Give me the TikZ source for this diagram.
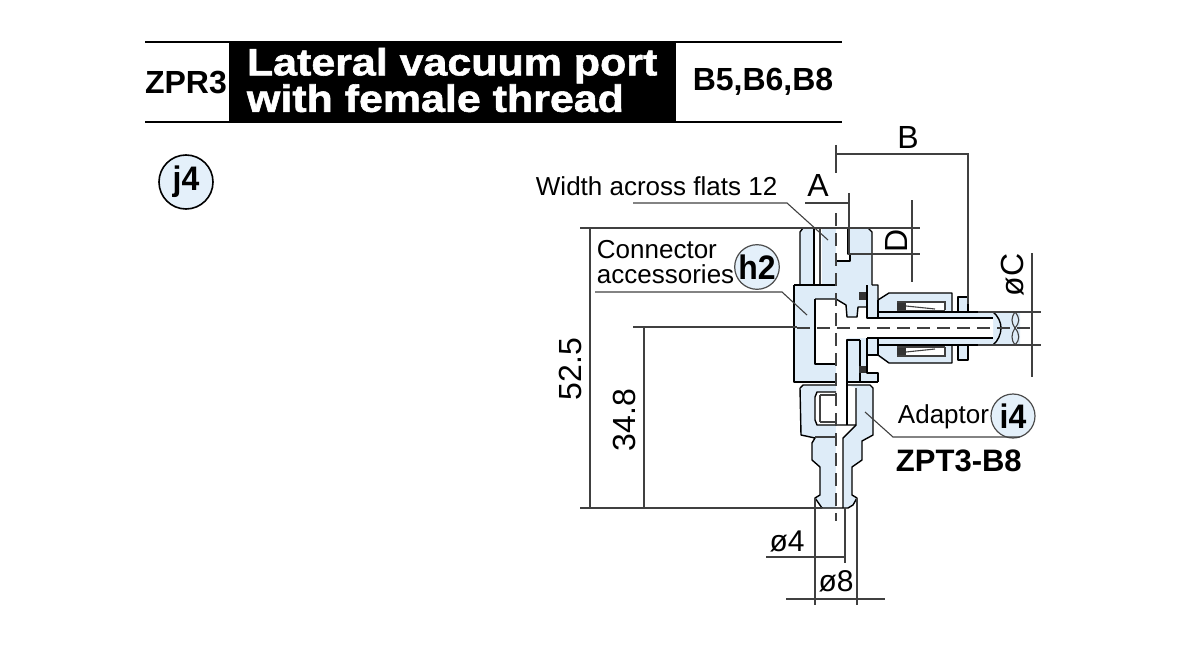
\documentclass[tikz,border=0pt]{standalone}
\usepackage{fontspec}
\setmainfont{Liberation Sans}
\newfontfamily\headfont[FakeStretch=1.13,FakeBold=1.5]{Liberation Sans}
\newfontfamily\bubblefont[FakeStretch=0.94]{Liberation Sans}
\definecolor{partblue}{RGB}{222,236,248}
\definecolor{bubbleblue}{RGB}{228,240,250}
\tikzset{
  outline/.style={draw=black,line width=1.4pt,line join=round},
  thinline/.style={draw=black!75,line width=1.1pt},
  dimline/.style={draw=black!75,line width=1.2pt},
  label/.style={inner sep=0.75pt,font=\fontsize{26}{27}\selectfont},
  biglabel/.style={inner sep=0.75pt,font=\fontsize{32}{32}\selectfont},
  bubble/.style={circle,draw=black!70,fill=bubbleblue,line width=1.2pt,minimum size=44pt,inner sep=0pt,font=\fontsize{34}{34}\selectfont\bubblefont\bfseries},
  headtext/.style={inner sep=0.75pt,font=\fontsize{32}{32}\selectfont\bfseries},
  whitetext/.style={inner sep=0.75pt,text=white,align=left,font=\fontsize{38}{32}\selectfont\headfont\bfseries},
}
\begin{document}
\begin{tikzpicture}[x=1pt,y=-1pt]
    \useasboundingbox (0,0) rectangle (1200,650);

    %Header
    \fill[black] (229,42) rectangle (676,123);
    \draw[line width=1.2pt] (145,42) -- (842,42);
    \draw[line width=1.2pt] (145,122) -- (842,122);
    \node[headtext] (series) at (186,83) {ZPR3};
    \node[headtext] (sizes) at (763,82) {B5,B6,B8};
    \node[whitetext,anchor=west] (title) at (246,80) {Lateral vacuum port\\with female thread};
    \node[bubble,minimum size=54pt,draw=black,line width=1.6pt] (jfour) at (186,182) {j4};

    %Shape: fitting body
    \fill[partblue] (800,232) -- (803,228) -- (868,228) -- (872,232) -- (872,285) -- (878,285) -- (878,300) -- (889,293) -- (952,293) -- (952,312) -- (958,312) -- (958,297) -- (968,297) -- (968,312) -- (993,312) -- (1020,312) -- (1020,345) -- (968,345) -- (968,360) -- (958,360) -- (958,345) -- (952,345) -- (952,363) -- (889,363) -- (878,357) -- (878,373) -- (878,382) -- (794,382) -- (794,285) -- (800,285) -- cycle;

    %Shape: adaptor
    \fill[partblue] (800,388) -- (803,385) -- (870,385) -- (873,388) -- (873,435) -- (862,441) -- (862,460) -- (852,467) -- (852,495) -- (857,498) -- (853,505) -- (848,508) -- (822,508) -- (815,498) -- (820,495) -- (820,467) -- (812,460) -- (812,443) -- (815,438) -- (801,435) -- cycle;

    %Shape: cavity
    \fill[white] (815,299) -- (836,299) -- (846,305) -- (847,317) -- (857,317) -- (858,307) -- (867,307) -- (867,318) -- (993,318) -- (993,338) -- (847,338) -- (847,382) -- (836,382) -- (836,364) -- (815,364) -- cycle;
    \fill[white] (814,229) rectangle (822,285);
    \fill[white] (836,229) rectangle (848,254);
    \fill[white] (836,254) rectangle (850,261);
    \fill[white] (817,392) -- (836,392) -- (836,382) -- (847,382) -- (847,385) -- (856,388) -- (856,425) -- (843,438) -- (843,508) -- (836,508) -- (836,425) -- (817,425) -- (815,420) -- (815,397) -- cycle;
    \fill[white] (906,302) rectangle (945,312);
    \fill[white] (906,345) rectangle (945,355);
    \fill[white] (868,356) rectangle (879,372);

    %Lines: upper block
    \draw[outline] (800,285) -- (800,232) -- (803,228) -- (868,228) -- (872,232) -- (872,285);
    \draw[outline] (814,229) -- (814,285);
    \draw[thinline] (820,229) -- (820,285);
    \draw[outline] (794,285) -- (836,285);
    \draw[outline] (848,228) -- (848,254) -- (850,254) -- (850,261) -- (836,261);

    %Lines: main body
    \draw[outline] (794,285) -- (794,382) -- (836,382);
    \draw[outline,line width=2.2pt] (794,382) -- (836,382);
    \draw[outline,line width=2.2pt] (847,382) -- (878,382);
    \draw[outline] (872,285) -- (878,285) -- (878,300) -- (889,293) -- (952,293) -- (952,312);
    \draw[outline] (878,300) -- (878,318);
    \draw[outline] (867,285) -- (867,318) -- (993,318);
    \draw[outline] (815,299) -- (836,299) -- (846,305) -- (847,317) -- (857,317) -- (858,307) -- (867,307);
    \draw[outline] (815,299) -- (815,364) -- (836,364);
    \draw[outline] (847,382) -- (847,340) -- (860,340);
    \draw[outline] (867,338) -- (993,338);
    \draw[outline] (867,338) -- (867,373) -- (878,373) -- (878,382);
    \draw[outline] (860,340) -- (860,382);
    \draw[outline] (878,338) -- (878,355) -- (867,355);
    \draw[outline] (878,355) -- (889,363) -- (952,363) -- (952,345);

    %Shape: seals
    \fill[black!80] (859,292) rectangle (866,300);
    \fill[black!80] (859,366) rectangle (866,373);

    %Shape: collet
    \fill[black!80] (897,302) -- (906,302) -- (906,311) -- (897,311) -- cycle;
    \fill[black!80] (897,347) -- (906,347) -- (906,356) -- (897,356) -- cycle;
    \draw[thinline] (897,302) -- (945,302) -- (945,310);
    \draw[thinline] (897,311) -- (945,311);
    \draw[thinline] (906,306) -- (935,309);
    \draw[thinline] (897,347) -- (945,347);
    \draw[thinline] (897,356) -- (945,356) -- (945,347);
    \draw[thinline] (906,352) -- (935,349);

    %Lines: release ring and tube
    \draw[outline] (952,312) -- (958,312) -- (958,297) -- (968,297) -- (968,312);
    \draw[outline] (952,345) -- (958,345) -- (958,360) -- (968,360) -- (968,345);
    \draw[outline] (878,312) -- (993,312);
    \draw[outline] (878,345) -- (993,345);
    \draw[outline] (993,312) .. controls (998,316) and (1001,322) .. (1001,328) .. controls (1001,334) and (998,341) .. (993,345);
    \draw[thinline] (1015,312) .. controls (1011,318) and (1011,322) .. (1015,328) .. controls (1020,334) and (1020,340) .. (1015,345);
    \draw[thinline] (1015,312) .. controls (1020,318) and (1020,322) .. (1015,328) .. controls (1011,334) and (1011,340) .. (1015,345);

    %Lines: adaptor
    \draw[outline] (800,388) -- (803,385) -- (836,385);
    \draw[outline] (847,385) -- (870,385) -- (873,388) -- (873,435) -- (862,441) -- (862,460) -- (852,467) -- (852,495) -- (857,498) -- (853,505) -- (848,508) -- (822,508) -- (815,498) -- (820,495) -- (820,467) -- (812,460) -- (812,443) -- (815,438) -- (801,435) -- (800,388);
    \draw[outline] (847,382) -- (847,425) ;
    \draw[outline] (856,388) -- (856,425) -- (843,438) -- (843,508);
    \draw[outline] (815,397) -- (817,392) -- (836,392);
    \draw[outline] (815,397) -- (815,420) -- (817,425) -- (856,425);
    \draw[thinline] (820,395) -- (836,395);
    \draw[thinline] (820,422) -- (836,422);
    \draw[thinline] (820,395) -- (820,422);
    \draw[thinline] (815,437) -- (836,437);

    %Text nodes
    \node[label,anchor=west] (flats) at (535,186) {Width across flats 12};
    \node[biglabel] (alabel) at (818,185) {A};
    \node[biglabel] (blabel) at (908,137) {B};
    \node[biglabel,rotate=90] (clabel) at (1013,275) {øC};
    \node[biglabel,rotate=90] (dlabel) at (896,241) {D};
    \node[label,anchor=west] (conn) at (596,250) {Connector};
    \node[label,anchor=west] (acc) at (596,274) {accessories};
    \node[bubble] (htwo) at (757,267) {h2};
    \node[label,anchor=west] (adaptor) at (897,417) {Adaptor};
    \node[bubble] (ifour) at (1013,416) {i4};
    \node[headtext,anchor=west,font=\fontsize{31}{31}\selectfont\bfseries] (model) at (895,461) {ZPT3-B8};
    \node[biglabel,rotate=90] (tall) at (570,369) {52.5};
    \node[biglabel,rotate=90] (mid) at (624,420) {34.8};
    \node[biglabel,font=\fontsize{30}{30}\selectfont] (dfour) at (787,541) {ø4};
    \node[biglabel,font=\fontsize{30}{30}\selectfont] (deight) at (836,581) {ø8};

    %Dimension lines
    \draw[dimline] (836,145) -- (836,173);
    \draw[dimline] (836,154) -- (968,154) -- (968,304);
    \draw[dimline] (805,203) -- (849,203);
    \draw[dimline] (849,193) -- (849,254) -- (920,254);
    \draw[dimline] (580,228) -- (920,228);
    \draw[dimline] (912,200) -- (912,282);
    \draw[dimline] (590,228) -- (590,508);
    \draw[dimline] (580,508) -- (822,508);
    \draw[dimline] (644,327) -- (644,508);
    \draw[dimline] (633,327) -- (797,327);
    \draw[dimline,dash pattern=on 13pt off 7pt] (797,328) -- (1030,328);
    \draw[dimline,dash pattern=on 13pt off 7pt] (836,213) -- (836,521);
    \draw[dimline] (978,312) -- (1041,312);
    \draw[dimline] (978,345) -- (1041,345);
    \draw[dimline] (1032,253) -- (1032,377);
    \draw[dimline] (766,557) -- (845,557);
    \draw[dimline] (845,508) -- (845,563);
    \draw[dimline] (786,599) -- (885,599);
    \draw[dimline] (815,498) -- (815,605);
    \draw[dimline] (857,498) -- (857,605);

    %Leaders
    \coordinate (flatsend) at (828,240);
    \coordinate (bodyend) at (807,315);
    \coordinate (adaptend) at (865,412);
    \draw[thinline] (633,203) -- (787,203) -- (flatsend);
    \draw[thinline] (595,292) -- (782,292) -- (bodyend);
    \draw[thinline] (1020,437) -- (893,437) -- (adaptend);
\end{tikzpicture}
\end{document}
